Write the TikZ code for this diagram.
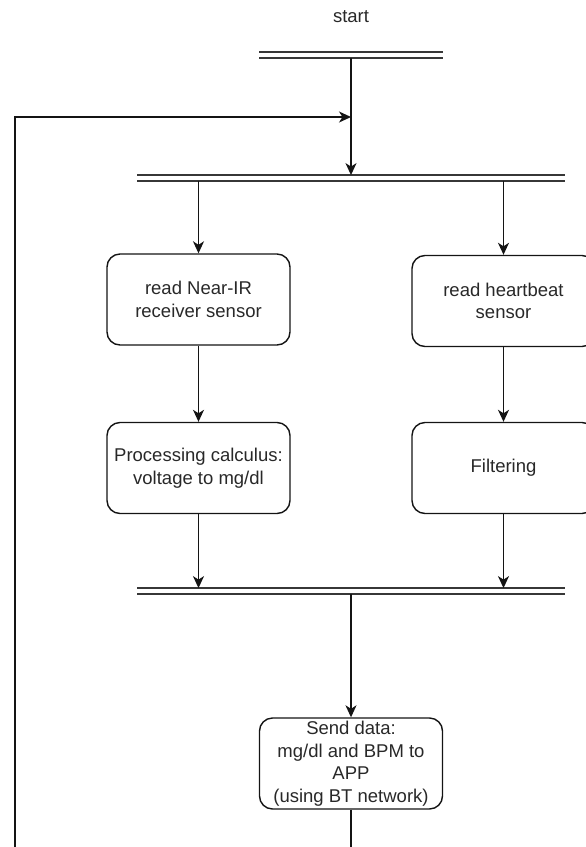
\documentclass[tikz,border=0pt]{standalone}
\usepackage{fontspec}
\setmainfont{Liberation Sans}
\usetikzlibrary{arrows.meta}
\definecolor{txt}{RGB}{40,40,40}
\definecolor{ln}{RGB}{20,20,20}
\tikzset{
  every node/.style={font=\fontsize{18.5}{22.5}\selectfont, text=txt},
  procbox/.style={draw=ln, line width=1.4pt, rounded corners=13pt, minimum width=183pt, minimum height=91pt, inner sep=0pt, align=center},
  barnode/.style={inner sep=0pt, outer sep=0pt, minimum height=5.8pt},
  barline/.style={draw=ln!85, line width=1.7pt},
  conn/.style={draw=ln, line width=1.5pt},
  arr/.style={conn, -{Stealth[length=12pt,width=11pt,inset=3.5pt]}}
}
\begin{document}
\begin{tikzpicture}[x=1pt,y=-1pt]
\useasboundingbox (0,0) rectangle (586,847);
% texts and nodes
\node (start) at (351,17) {start};
\node[barnode, minimum width=184pt] (b1) at (351,55) {};
\node[barnode, minimum width=428pt] (b2) at (351,178) {};
\node[barnode, minimum width=428pt] (b3) at (351,591) {};
\node[procbox] (nir) at (198.5,299.5) {read Near-IR\\receiver sensor};
\node[procbox] (hb) at (503.5,301) {read heartbeat\\sensor};
\node[procbox] (proc) at (198.5,468) {Processing calculus:\\voltage to mg/dl};
\node[procbox] (filt) at (503.5,468) {Filtering};
\node[procbox] (send) at (351,763.5) {Send data:\\mg/dl and BPM to\\APP\\(using BT network)};
\coordinate (loopbot) at (15,847);
\coordinate (join) at (351,117);
\coordinate (sendbot) at (351,847);
% bars
\foreach \b in {b1,b2,b3}{
  \draw[barline] (\b.north west) -- (\b.north east);
  \draw[barline] (\b.south west) -- (\b.south east);
}
% connectors
\draw[arr] (b1.south) -- (b2.north);
\draw[arr] (loopbot) -- (loopbot |- join) -- (join);
\draw[arr] (b2.south -| nir.north) -- (nir.north);
\draw[arr] (b2.south -| hb.north) -- (hb.north);
\draw[arr] (nir.south) -- (proc.north);
\draw[arr] (hb.south) -- (filt.north);
\draw[arr] (proc.south) -- (proc.south |- b3.north);
\draw[arr] (filt.south) -- (filt.south |- b3.north);
\draw[arr] (b3.south) -- (send.north);
\draw[conn] (send.south) -- (sendbot);
\end{tikzpicture}
\end{document}
